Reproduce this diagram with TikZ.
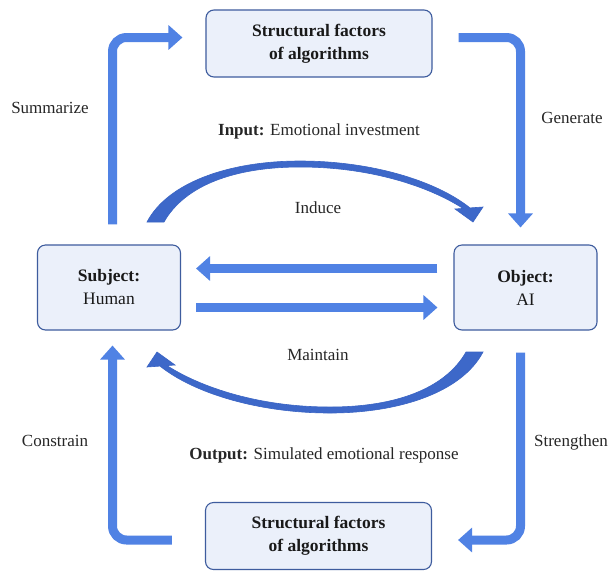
\documentclass[tikz,border=0pt]{standalone}
\usepackage{fontspec}
\setmainfont{Liberation Serif}
\definecolor{flowblue}{HTML}{5082E4}
\definecolor{flowedge}{HTML}{3A64C4}
\definecolor{boxfill}{HTML}{EBF0FA}
\definecolor{boxline}{HTML}{3E5C9E}
\usepackage{tikz}
\usetikzlibrary{arrows.meta, positioning, calc}

\begin{document}
\begin{tikzpicture}[x=1pt, y=-1pt,
  block/.style={rounded corners=8pt, minimum width=226pt, minimum height=67pt,
               draw=boxline, fill=boxfill, line width=1.1pt, align=center,
               text=black!90, font=\fontsize{17.5}{23}\selectfont},
  side/.style={block, minimum width=143pt, minimum height=85pt},
  lbl/.style={font=\fontsize{17}{20}\selectfont, text=black!85},
  flow/.style={draw=flowblue, line width=9pt, rounded corners=14pt,
               -{Triangle[width=24pt, length=14pt]}},
  curvearrow/.style={fill=flowedge!85!flowblue, draw=flowedge, line width=0.6pt},
]
  \fill[white] (0,0) rectangle (609,571);
  \useasboundingbox (0,0) rectangle (609,571);

  \node[block] (alg1) at (319,43.5) {\textbf{Structural factors}\\\textbf{of algorithms}};
  \node[side] (subj) at (109,287.5) {\textbf{Subject:}\\Human};
  \node[side] (obj) at (525.5,287.5) {\textbf{Object:}\\AI};
  \node[block] (alg2) at (318.5,536) {\textbf{Structural factors}\\\textbf{of algorithms}};

  % outer loop
  \draw[flow] ([xshift=3.5pt, yshift=20pt]subj.north) |- ([xshift=-23pt, yshift=6pt]alg1.west);
  \draw[flow] ([xshift=26pt, yshift=6pt]alg1.east) -| ([xshift=-5pt, yshift=17pt]obj.north);
  \draw[flow] ([xshift=-5pt, yshift=-22pt]obj.south) |- ([xshift=26pt, yshift=-4pt]alg2.east);
  \draw[flow] ([xshift=-33pt, yshift=-4pt]alg2.west) -| ([xshift=3.5pt, yshift=-15pt]subj.south);

  % inner exchange
  \draw[flow] ([xshift=-16pt, yshift=19pt]obj.west) -- ([xshift=15pt, yshift=19pt]subj.east);
  \draw[flow] ([xshift=15pt, yshift=-20pt]subj.east) -- ([xshift=-16pt, yshift=-20pt]obj.west);

  % curved arrows (induce / maintain)
  \foreach \r in {0,180}
    \path[curvearrow, rotate around={\r:(315,287)}] (147,222)
      .. controls (168,182) and (230,161) .. (300,161)
      .. controls (370,161) and (435,180) .. (470,207.9)
      -- (483,207) -- (473,222) -- (455,209) -- (463,208.4)
      .. controls (428,186) and (370,167) .. (300,167)
      .. controls (235,167) and (185,185) .. (164,222) -- cycle;

  \node[lbl] (sum) at (50,108) {Summarize};
  \node[lbl] (gen) at (572,118) {Generate};
  \node[lbl] (con) at (55,441) {Constrain};
  \node[lbl, anchor=east, inner xsep=1pt] (str) at (609,442) {Strengthen};
  \node[lbl] (inp) at (319,131) {\textbf{Input:} Emotional investment};
  \node[lbl] (ind) at (318,208) {Induce};
  \node[lbl] (mai) at (318,355) {Maintain};
  \node[lbl] (out) at (324,455) {\textbf{Output:} Simulated emotional response};
\end{tikzpicture}
\end{document}
